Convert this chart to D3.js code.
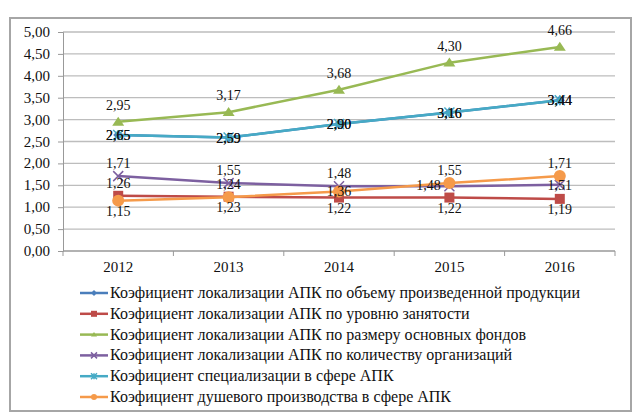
<!DOCTYPE html>
<html>
<head>
<meta charset="utf-8">
<script src="https://cdn.jsdelivr.net/npm/d3@7"></script>
<style>
  body { margin: 0; background: #fff; }
</style>
</head>
<body>
<div id="chart"></div>
<script>
// years along the category axis
const years = ["2012", "2013", "2014", "2015", "2016"];
const yTicks = [0, 0.5, 1, 1.5, 2, 2.5, 3, 3.5, 4, 4.5, 5];

// series values
const volumeLoc = [2.65, 2.59, 2.90, 3.16, 3.44];
const employLoc = [1.26, 1.24, 1.22, 1.22, 1.19];
const fundsLoc = [2.95, 3.17, 3.68, 4.30, 4.66];
const orgsLoc = [1.71, 1.55, 1.48, 1.48, 1.51];
const specCoef = [2.65, 2.59, 2.90, 3.16, 3.44];
const perCapita = [1.15, 1.23, 1.36, 1.55, 1.71];

const seriesNames = [
    "Коэфициент локализации АПК по объему произведенной продукции",
    "Коэфициент локализации АПК по уровню занятости",
    "Коэфициент локализации АПК по размеру основных фондов",
    "Коэфициент локализации АПК по количеству организаций",
    "Коэфициент специализации  в сфере АПК",
    "Коэфициент душевого производства в сфере АПК"
];
const seriesValues = [volumeLoc, employLoc, fundsLoc, orgsLoc, specCoef, perCapita];
const seriesColors = ["#4a7ebb", "#be4b48", "#98b954", "#7d60a0", "#46aac5", "#f59a4a"];
const seriesMarkers = ["diamond", "square", "triangle", "x", "star", "circle"];
// where each value label sits relative to its point
const labelPlace = [
    ["c", "c", "c", "c", "c"],
    ["a", "a", "b", "b", "b"],
    ["a", "a", "a", "a", "a"],
    ["a", "a", "a", "l", "c"],
    ["c", "c", "c", "c", "c"],
    ["b", "b", "c", "a", "a"]
];

const W = 640, H = 420;
const margin = { top: 32, right: 25, bottom: 169, left: 63 };
const innerW = W - margin.left - margin.right;
const innerH = H - margin.top - margin.bottom;
const FONT = "Liberation Serif";

const svg = d3.select("#chart").append("svg")
    .attr("width", W)
    .attr("height", H)
    .attr("font-family", FONT);

function addText(parent, x, y, str, anchor, size) {
    return parent.append("text")
        .attr("x", x).attr("y", y)
        .attr("text-anchor", anchor || "middle")
        .attr("font-family", FONT)
        .style("font-family", "'" + FONT + "'")
        .attr("font-size", size || 14)
        .attr("fill", "#111")
        .text(str);
}

// outer frame
svg.append("rect")
    .attr("x", 10).attr("y", 18)
    .attr("width", 621).attr("height", 393)
    .attr("fill", "#fff")
    .attr("stroke", "#a6a6a6")
    .attr("stroke-width", 2);

const g = svg.append("g")
    .attr("transform", "translate(" + margin.left + "," + margin.top + ")");

const x = d3.scaleBand().domain(years).range([0, innerW]);
const y = d3.scaleLinear().domain([0, 5]).range([innerH, 0]);

// gridlines
g.selectAll(".grid")
    .data(yTicks.slice(1))
    .enter().append("line")
    .attr("x1", 0).attr("x2", innerW)
    .attr("y1", d => y(d)).attr("y2", d => y(d))
    .attr("stroke", "#bdbdbd")
    .attr("stroke-width", 1.3);

const fmt = d => d.toFixed(2).replace(".", ",");

// y axis
const yAxis = g.append("g")
    .call(d3.axisLeft(y).tickValues(yTicks).tickFormat("").tickSize(5));
yAxis.select(".domain").attr("stroke", "#999");
yAxis.selectAll(".tick line").attr("stroke", "#999");
yTicks.forEach(v => addText(g, -13, y(v) + 5, fmt(v), "end", 15));

// x axis, ticks between categories like a spreadsheet chart
const xAxis = g.append("g")
    .attr("transform", "translate(0," + innerH + ")");
xAxis.append("line")
    .attr("x1", 0).attr("x2", innerW)
    .attr("stroke", "#999").attr("stroke-width", 1.3);
xAxis.selectAll(".xt")
    .data(years.concat(["end"]))
    .enter().append("line")
    .attr("x1", (d, i) => i * x.step()).attr("x2", (d, i) => i * x.step())
    .attr("y1", 0).attr("y2", 5)
    .attr("stroke", "#999");
years.forEach(d => addText(xAxis, x(d) + x.bandwidth() / 2, 21, d, "middle", 15));

const cx = (d, i) => x(years[i]) + x.bandwidth() / 2;

function drawMarker(sel, type, color, size) {
    const r = size / 2;
    if (type === "diamond") {
        sel.append("path").attr("d", `M0,${-r}L${r},0L0,${r}L${-r},0Z`)
            .attr("fill", color);
    } else if (type === "square") {
        sel.append("rect").attr("x", -r).attr("y", -r)
            .attr("width", size).attr("height", size).attr("fill", color);
    } else if (type === "triangle") {
        sel.append("path").attr("d", `M0,${-r * 0.85}L${r},${r * 0.65}L${-r},${r * 0.65}Z`)
            .attr("fill", color);
    } else if (type === "x") {
        sel.append("path").attr("d", `M${-r},${-r}L${r},${r}M${-r},${r}L${r},${-r}`)
            .attr("stroke", color).attr("stroke-width", 1.5).attr("fill", "none");
    } else if (type === "star") {
        sel.append("path").attr("d", `M${-r},${-r}L${r},${r}M${-r},${r}L${r},${-r}M0,${-r}L0,${r}`)
            .attr("stroke", color).attr("stroke-width", 1.5).attr("fill", "none");
    } else {
        sel.append("circle").attr("r", r).attr("fill", color);
    }
}

const line = d3.line().x(cx).y(d => y(d));

// draw order: keep blue under cyan so they overlap as in the picture
const order = [0, 1, 2, 3, 5, 4];
order.forEach(k => {
    const vals = seriesValues[k];
    g.append("path")
        .datum(vals)
        .attr("d", line)
        .attr("fill", "none")
        .attr("stroke", seriesColors[k])
        .attr("stroke-width", 2.5);
    vals.forEach((v, i) => {
        const m = g.append("g").attr("transform", `translate(${cx(v, i)},${y(v)})`);
        drawMarker(m, seriesMarkers[k], seriesColors[k], k === 5 || k === 2 ? 12 : 10);
    });
});

// value labels
seriesValues.forEach((vals, k) => {
    vals.forEach((v, i) => {
        const p = labelPlace[k][i];
        let dx = 0, dy = 5;
        if (p === "a") dy = k === 2 ? -12 : -8;
        if (p === "b") dy = 15;
        if (p === "l") { dx = -21; dy = 4; }
        addText(g, cx(v, i) + dx, y(v) + dy, fmt(v), "middle");
    });
});

// legend
const legend = svg.append("g").attr("transform", "translate(80,293)");
seriesNames.forEach((name, k) => {
    const row = legend.append("g").attr("transform", `translate(0,${k * 20.8})`);
    row.append("line").attr("x1", 0).attr("x2", 28)
        .attr("stroke", seriesColors[k]).attr("stroke-width", 2.5);
    const m = row.append("g").attr("transform", "translate(14,0)");
    drawMarker(m, seriesMarkers[k], seriesColors[k], 6);
    addText(row, 30, 5, name, "start", 16);
});
</script>
</body>
</html>
